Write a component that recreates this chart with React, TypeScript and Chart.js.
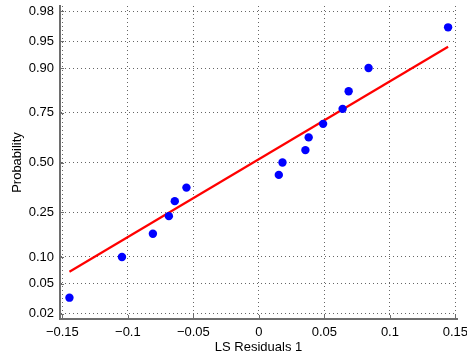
import React, { useEffect, useRef } from "react";
import { Chart, registerables } from "chart.js";

Chart.register(...registerables);

// Residual values (x) and plotting probabilities (y)
const residuals = [
  -0.1446, -0.1045, -0.0809, -0.0687, -0.0642, -0.0553, 0.0152, 0.018,
  0.0355, 0.038, 0.049, 0.0639, 0.0685, 0.0837, 0.1444,
];
const probabilities = [
  0.0333, 0.1, 0.1667, 0.2333, 0.3, 0.3667, 0.4333, 0.5, 0.5667, 0.6333,
  0.7, 0.7667, 0.8333, 0.9, 0.9667,
];
// Reference line end points
const lineX = [-0.1446, 0.1444];
const lineP = [0.069, 0.942];

const xTicks = [-0.15, -0.1, -0.05, 0, 0.05, 0.1, 0.15];
const xTickLabels = ["\u22120.15", "\u22120.1", "\u22120.05", "0", "0.05", "0.1", "0.15"];
const yTickProbs = [0.02, 0.05, 0.1, 0.25, 0.5, 0.75, 0.9, 0.95, 0.98];
const yTickLabels = ["0.02", "0.05", "0.10", "0.25", "0.50", "0.75", "0.90", "0.95", "0.98"];

const xTitle = "LS Residuals 1";
const yTitle = "Probability";

// Inverse standard normal CDF (Acklam's approximation)
function norminv(p: number): number {
  const a = [-3.969683028665376e1, 2.209460984245205e2, -2.759285104469687e2, 1.38357751867269e2, -3.066479806614716e1, 2.506628277459239];
  const b = [-5.447609879822406e1, 1.615858368580409e2, -1.556989798598866e2, 6.680131188771972e1, -1.328068155288572e1];
  const c = [-7.784894002430293e-3, -3.223964580411365e-1, -2.400758277161838, -2.549732539343734, 4.374664141464968, 2.938163982698783];
  const d = [7.784695709041462e-3, 3.224671290700398e-1, 2.445134137142996, 3.754408661907416];
  const pl = 0.02425;
  if (p < pl) {
    const q = Math.sqrt(-2 * Math.log(p));
    return (((((c[0] * q + c[1]) * q + c[2]) * q + c[3]) * q + c[4]) * q + c[5]) / ((((d[0] * q + d[1]) * q + d[2]) * q + d[3]) * q + 1);
  }
  if (p <= 1 - pl) {
    const q = p - 0.5;
    const r = q * q;
    return ((((((a[0] * r + a[1]) * r + a[2]) * r + a[3]) * r + a[4]) * r + a[5]) * q) / (((((b[0] * r + b[1]) * r + b[2]) * r + b[3]) * r + b[4]) * r + 1);
  }
  const q = Math.sqrt(-2 * Math.log(1 - p));
  return -(((((c[0] * q + c[1]) * q + c[2]) * q + c[3]) * q + c[4]) * q + c[5]) / ((((d[0] * q + d[1]) * q + d[2]) * q + d[3]) * q + 1);
}

const FONT = "'Liberation Sans', Arial, Helvetica, sans-serif";
const AXIS_COLOR = "#6e6e6e";

const inwardTicks = {
  id: "inwardTicks",
  afterDatasetsDraw(chart: any) {
    const { ctx, chartArea } = chart;
    const xs = chart.scales.x;
    const ys = chart.scales.y;
    ctx.save();
    ctx.strokeStyle = AXIS_COLOR;
    ctx.lineWidth = 1;
    ctx.beginPath();
    xs.ticks.forEach((t: any) => {
      const px = Math.round(xs.getPixelForValue(t.value)) + 0.5;
      ctx.moveTo(px, chartArea.bottom);
      ctx.lineTo(px, chartArea.bottom - 4);
    });
    ys.ticks.forEach((t: any) => {
      const py = Math.round(ys.getPixelForValue(t.value)) + 0.5;
      ctx.moveTo(chartArea.left, py);
      ctx.lineTo(chartArea.left + 4, py);
    });
    ctx.stroke();
    ctx.restore();
  },
};

export default function App() {
  const ref = useRef<HTMLCanvasElement | null>(null);

  useEffect(() => {
    document.body.style.margin = "0";
    const canvas = ref.current;
    if (!canvas) return;
    const points = residuals.map((x, i) => ({ x, y: norminv(probabilities[i]) }));
    const line = lineX.map((x, i) => ({ x, y: norminv(lineP[i]) }));
    const chart = new Chart(canvas, {
      type: "scatter",
      data: {
        datasets: [
          {
            data: points,
            order: 0,
            backgroundColor: "#0000ff",
            borderColor: "#0000ff",
            pointRadius: 4.2,
            pointBorderWidth: 0,
            showLine: false,
          },
          {
            data: line,
            order: 1,
            showLine: true,
            borderColor: "#ff0000",
            borderWidth: 2.2,
            pointRadius: 0,
            fill: false,
          },
        ],
      },
      options: {
        animation: false,
        responsive: false,
        maintainAspectRatio: false,
        devicePixelRatio: 1,
        layout: { padding: { top: 6, right: 10, left: 0, bottom: 0 } },
        plugins: { legend: { display: false }, tooltip: { enabled: false } },
        scales: {
          x: {
            type: "linear",
            min: -0.1518,
            max: 0.1512,
            afterBuildTicks: (scale: any) => {
              scale.ticks = xTicks.map((v) => ({ value: v }));
            },
            afterFit: (scale: any) => {
              scale.height = 40;
              scale.paddingLeft = 0;
              scale.paddingRight = 0;
            },
            ticks: {
              autoSkip: false,
              maxRotation: 0,
              padding: 6,
              color: "#000",
              font: { family: FONT, size: 13 },
              callback: (_v: any, i: number) => xTickLabels[i],
            },
            grid: {
              color: "rgba(0,0,0,0.6)",
              lineWidth: 1,
              drawTicks: false,
            },
            border: { display: true, color: AXIS_COLOR, width: 2, dash: [1, 3] },
            title: {
              display: true,
              text: xTitle,
              color: "#000",
              font: { family: FONT, size: 13 },
              padding: { top: 0, bottom: 4 },
            },
          },
          y: {
            type: "linear",
            min: -2.124,
            max: 2.124,
            afterBuildTicks: (scale: any) => {
              scale.ticks = yTickProbs.map((p) => ({ value: norminv(p) }));
            },
            afterFit: (scale: any) => {
              scale.width = 60;
              scale.paddingTop = 0;
              scale.paddingBottom = 0;
            },
            ticks: {
              autoSkip: false,
              padding: 6,
              color: "#000",
              font: { family: FONT, size: 13 },
              callback: (_v: any, i: number) => yTickLabels[i],
            },
            grid: {
              color: "rgba(0,0,0,0.6)",
              lineWidth: 1,
              drawTicks: false,
            },
            border: { display: true, color: AXIS_COLOR, width: 2, dash: [1, 3] },
            title: {
              display: true,
              text: yTitle,
              color: "#000",
              font: { family: FONT, size: 13 },
              padding: { top: 10, bottom: 0 },
            },
          },
        },
      },
      plugins: [inwardTicks],
    });
    return () => chart.destroy();
  }, []);

  return (
    <div style={{ position: "fixed", left: 0, top: 0, width: 467, height: 359 }}>
      <canvas ref={ref} width={467} height={359} style={{ width: 467, height: 359 }} />
    </div>
  );
}
